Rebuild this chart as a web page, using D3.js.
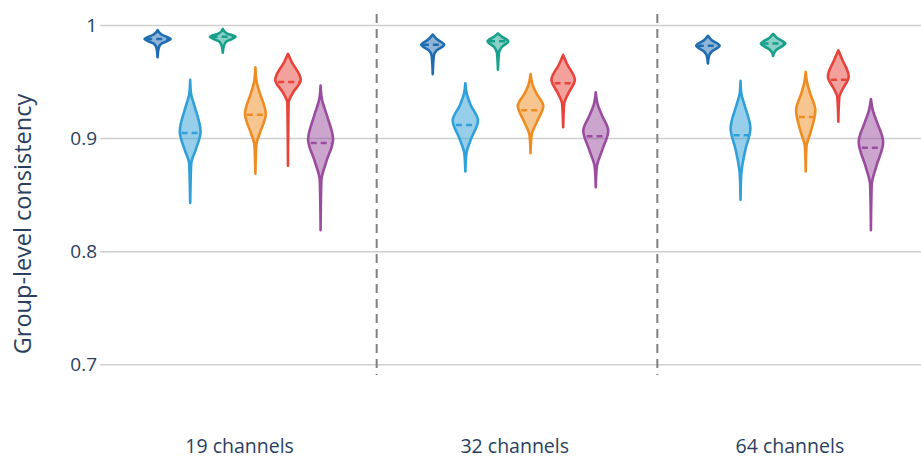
<!DOCTYPE html>
<html><head><meta charset="utf-8">
<script src="https://cdn.jsdelivr.net/npm/d3@7"></script>
<style>body{margin:0;background:#fff}svg{display:block;font-family:"Open Sans","Noto Sans",sans-serif}</style>
</head><body><svg id="c" width="921" height="459"></svg>
<script>
const categories = ["19 channels", "32 channels", "64 channels"];
const seriesNames = ["S1", "S2", "S3", "S4", "S5", "S6"];
const colors = ["#1f6db0", "#2fa0d8", "#17a08c", "#ee8c22", "#e8433a", "#9a4c9f"];
const yTicks = [0.7, 0.8, 0.9, 1];
const separators = [0.5, 1.52];
// violin profiles: [value, relative density], per category, per series
const profiles = [
  [
    [[0.996,0],[0.992,0.3],[0.988,1.0],[0.984,0.3],[0.980,0.08],[0.972,0]],
    [[0.952,0],[0.94,0.06],[0.93,0.3],[0.906,0.8],[0.89,0.42],[0.878,0.08],[0.86,0.03],[0.843,0]],
    [[0.997,0],[0.993,0.3],[0.990,0.98],[0.986,0.3],[0.982,0.08],[0.976,0]],
    [[0.963,0],[0.95,0.1],[0.94,0.35],[0.922,0.8],[0.905,0.35],[0.895,0.08],[0.869,0]],
    [[0.975,0],[0.968,0.28],[0.952,0.98],[0.94,0.35],[0.932,0.05],[0.876,0]],
    [[0.947,0],[0.935,0.1],[0.92,0.5],[0.899,0.96],[0.88,0.45],[0.863,0.06],[0.819,0]]
  ],
  [
    [[0.992,0],[0.988,0.3],[0.983,0.88],[0.978,0.3],[0.973,0.08],[0.957,0]],
    [[0.949,0],[0.94,0.1],[0.93,0.4],[0.916,0.97],[0.9,0.45],[0.887,0.08],[0.871,0]],
    [[0.993,0],[0.990,0.3],[0.986,0.8],[0.981,0.3],[0.976,0.08],[0.961,0]],
    [[0.957,0],[0.948,0.15],[0.94,0.45],[0.929,0.98],[0.915,0.5],[0.903,0.08],[0.887,0]],
    [[0.974,0],[0.966,0.3],[0.952,0.9],[0.94,0.4],[0.931,0.08],[0.91,0]],
    [[0.941,0],[0.93,0.15],[0.92,0.5],[0.907,0.96],[0.89,0.5],[0.875,0.08],[0.857,0]]
  ],
  [
    [[0.991,0],[0.987,0.3],[0.982,0.9],[0.977,0.3],[0.973,0.08],[0.9665,0]],
    [[0.951,0],[0.94,0.06],[0.93,0.3],[0.909,0.76],[0.89,0.37],[0.869,0.06],[0.846,0]],
    [[0.9925,0],[0.989,0.3],[0.984,0.94],[0.979,0.3],[0.976,0.08],[0.973,0]],
    [[0.959,0],[0.95,0.1],[0.94,0.34],[0.925,0.74],[0.905,0.36],[0.893,0.06],[0.871,0]],
    [[0.978,0],[0.97,0.3],[0.955,0.8],[0.944,0.35],[0.937,0.08],[0.915,0]],
    [[0.935,0],[0.925,0.15],[0.915,0.45],[0.897,0.94],[0.875,0.4],[0.859,0.06],[0.819,0]]
  ]
];
const means = [
  [0.988, 0.905, 0.990, 0.921, 0.950, 0.896],
  [0.983, 0.912, 0.986, 0.925, 0.949, 0.902],
  [0.982, 0.903, 0.984, 0.919, 0.952, 0.892]
];

const svg = d3.select("#c");
const x = d3.scaleLinear().domain([-0.5, 2.5]).range([101.5, 927]);
const y = d3.scaleLinear().domain([0.7, 1]).range([364.8, 25.5]);
const inner = d3.scalePoint().domain(seriesNames).range([-81.5, 81.5]);
const w = d3.scaleLinear().domain([0, 1]).range([0, 13]);
const left = 100, right = 921;
const textCol = "#2a3f5f";

// gridlines
svg.append("g").selectAll("line").data(yTicks).join("line")
  .attr("x1", left).attr("x2", right)
  .attr("y1", d => y(d)).attr("y2", d => y(d))
  .attr("stroke", "#cfcfcf").attr("stroke-width", 1.5);

// y axis labels
const yAxis = d3.axisLeft(y).tickValues(yTicks).tickFormat(d => d === 1 ? "1" : d3.format(".1f")(d)).tickSize(0).tickPadding(2);
const ya = svg.append("g").attr("transform", `translate(${left - 1},0)`).call(yAxis);
ya.select(".domain").remove();
ya.selectAll("text").attr("font-size", 19).attr("fill", textCol).attr("font-family", "Open Sans");

svg.append("text").attr("transform", `translate(31,224) rotate(-90)`)
  .attr("text-anchor", "middle").attr("font-size", 23.5).attr("fill", textCol)
  .text("Group-level consistency");

// x axis labels
const xAxis = d3.axisBottom(x).tickValues([0, 1, 2]).tickFormat(i => categories[i]).tickSize(0).tickPadding(0);
const xa = svg.append("g").attr("transform", `translate(0,0)`).call(xAxis);
xa.select(".domain").remove();
xa.selectAll("text").attr("font-size", 19.5).attr("fill", textCol).attr("font-family", "Open Sans")
  .attr("y", 453).attr("dy", 0);

// separators
svg.append("g").selectAll("line").data(separators).join("line")
  .attr("x1", d => x(d)).attr("x2", d => x(d))
  .attr("y1", 14).attr("y2", 375)
  .attr("stroke", "#808080").attr("stroke-width", 2).attr("stroke-dasharray", "9,6");

// violins
function halfAt(prof, v) {
  for (let i = 0; i < prof.length - 1; i++) {
    const a = prof[i], b = prof[i + 1];
    if (v <= a[0] && v >= b[0]) {
      const t = (a[0] - v) / (a[0] - b[0]);
      return a[1] + t * (b[1] - a[1]);
    }
  }
  return 0;
}
const g = svg.append("g");
profiles.forEach((cat, ci) => {
  cat.forEach((prof, si) => {
    const cx = x(ci) + inner(seriesNames[si]);
    const area = d3.area()
      .x0(d => cx - w(d[1]) - 0.001).x1(d => cx + w(d[1]) + 0.001)
      .y(d => y(d[0])).curve(d3.curveMonotoneY);
    g.append("path").attr("d", area(prof))
      .attr("fill", colors[si]).attr("fill-opacity", 0.5)
      .attr("stroke", colors[si]).attr("stroke-width", 2.6).attr("stroke-linejoin", "round");
    const hw = w(halfAt(prof, means[ci][si])) * 0.95;
    g.append("line")
      .attr("x1", cx - hw).attr("x2", cx + hw)
      .attr("y1", y(means[ci][si])).attr("y2", y(means[ci][si]))
      .attr("stroke", colors[si]).attr("stroke-width", 2.5)
      .attr("stroke-dasharray", "6,4").attr("stroke-dashoffset", -1);
  });
});
</script></body></html>
